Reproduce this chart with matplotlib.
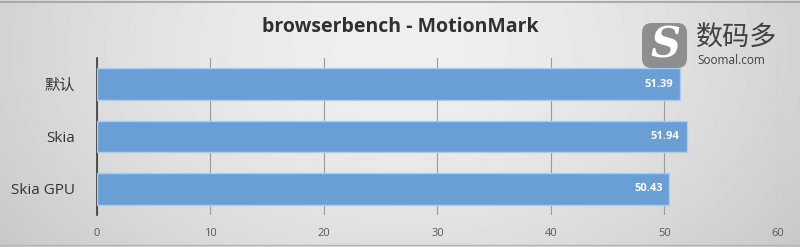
import numpy as np
import matplotlib
matplotlib.use('Agg')
import matplotlib.pyplot as plt
from matplotlib.patches import FancyBboxPatch

plt.rcParams['font.family'] = ['Open Sans', 'Noto Sans CJK SC', 'DejaVu Sans']

title = 'browserbench - MotionMark'
categories = ['默认', 'Skia', 'Skia GPU']
values = [51.39, 51.94, 50.43]
xticks = [0, 10, 20, 30, 40, 50, 60]

fig = plt.figure(figsize=(8, 2.47), dpi=100)

# background: light in the middle/top, darker towards the edges
bg = fig.add_axes([0, 0, 1, 1], zorder=-10)
yy, xx = np.mgrid[0:1:247j, 0:1:800j]
d = np.sqrt(((xx - 0.5) / 0.62) ** 2 + ((yy - 0.2) / 1.4) ** 2)
shade = np.clip(0.94 - 0.16 * d ** 1.6, 0.77, 0.95)
bg.imshow(shade, cmap='gray', vmin=0, vmax=1, aspect='auto', extent=[0, 1, 0, 1])
bg.plot([0, 1], [0.992, 0.992], color='#a0a0a0', lw=1.2)
bg.plot([0, 1], [0.008, 0.008], color='#b4b4b4', lw=1.0)
bg.set_xlim(0, 1)
bg.set_ylim(0, 1)
bg.axis('off')

# logo
logo = FancyBboxPatch((642 / 800, 1 - 68 / 247), 45 / 800, 45 / 247,
                      boxstyle='round,pad=0,rounding_size=0.012',
                      transform=fig.transFigure, facecolor='#8e8e8e',
                      edgecolor='none', mutation_aspect=800 / 247)
fig.patches.append(logo)
fig.text(665 / 800, 1 - 46 / 247, 'S', color='white', fontsize=30,
         fontweight='bold', style='italic', ha='center', va='center',
         family='DejaVu Serif')
fig.text(696 / 800, 1 - 38 / 247, '数码多', color='#404040', fontsize=19.5,
         family=['Noto Sans CJK SC'], ha='left', va='center')
fig.text(697 / 800, 1 - 60 / 247, 'Soomal.com', color='#404040', fontsize=8.5,
         ha='left', va='center')

ax = fig.add_axes([97 / 800, 1 - 215 / 247, 681 / 800, 157 / 247])
ax.patch.set_alpha(0)
y = np.arange(len(categories))
ax.barh(y, values, height=0.6, color='#6a9fd6', edgecolor='#a9cdef',
        linewidth=1.0, zorder=3)
for yi, v in zip(y, values):
    ax.text(v - 0.6, yi, f'{v:.2f}', color='white', fontsize=8,
            fontweight='bold', ha='right', va='center', zorder=4)

ax.set_xlim(0, 60)
ax.set_ylim(2.5, -0.5)
ax.set_xticks(xticks)
ax.set_yticks(y)
ax.set_yticklabels(categories, fontsize=11, color='#333333')
ax.tick_params(axis='x', length=0, labelsize=8, labelcolor='#595959', pad=9)
ax.tick_params(axis='y', length=0, pad=16)
ax.grid(axis='x', color='#9a9a9a', lw=0.8, zorder=0)
for s in ['top', 'right', 'bottom']:
    ax.spines[s].set_visible(False)
ax.spines['left'].set_color('#3a3a3a')
ax.spines['left'].set_linewidth(1.2)

fig.text(0.5, 1 - 27 / 247, title, ha='center', va='center', fontsize=14,
         fontweight='bold', color='#303030')

fig.savefig('out.png', dpi=100)
